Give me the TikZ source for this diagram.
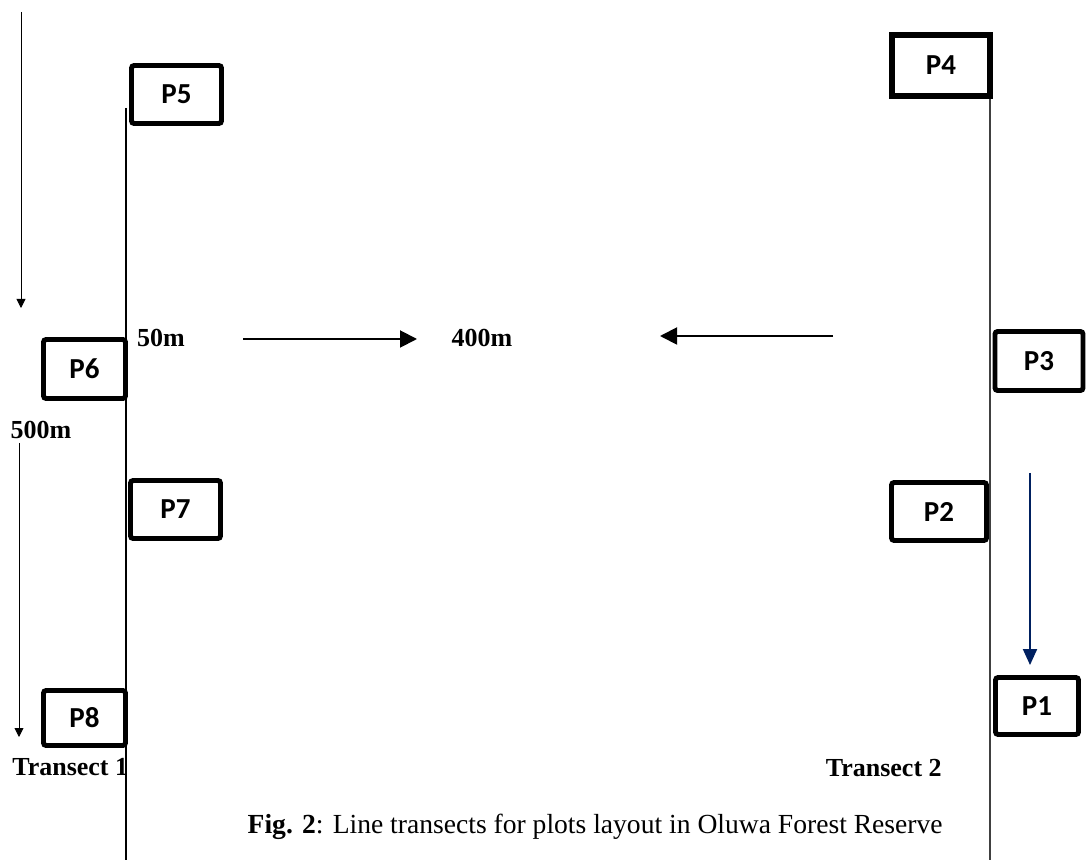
\documentclass[tikz,border=0pt]{standalone}
\usepackage{fontspec}
\setmainfont{Liberation Serif}
\newfontfamily\plotfont{Carlito}
\usetikzlibrary{arrows.meta, positioning}
\definecolor{navyarrow}{RGB}{0,32,96}

\begin{document}
\begin{tikzpicture}[
  % Node styles
  plotbox/.style={
    rectangle, rounded corners=1.5pt,
    draw=black, line width=2.8pt, fill=white,
    minimum width=1.8cm, minimum height=1.16cm,
    inner sep=0pt,
    font=\plotfont\bfseries\fontsize{16.5}{19}\selectfont
  },
  lbl/.style={
    inner sep=0pt,
    font=\bfseries\fontsize{14.8}{18}\selectfont
  },
  % Line styles
  transect/.style={line width=1.1pt},
  arr/.style={-{Triangle[length=0.34cm, width=0.34cm]}, line width=1.1pt},
  thinarr/.style={-{Triangle[length=0.18cm, width=0.18cm]}, line width=0.5pt},
  bluearr/.style={-{Triangle[length=0.32cm, width=0.28cm]}, line width=1.1pt, draw=navyarrow}
]
\useasboundingbox (0,0) rectangle (21.74,17.2);

%% ── Transect lines ───────────────────────────────────────────
\coordinate (t1top) at (2.52,15.04);
\coordinate (t1bot) at (2.52,0);
\coordinate (t2top) at (19.80,15.22);
\coordinate (t2bot) at (19.80,0);
\draw[transect] (t1top) -- (t1bot);
\draw[line width=0.6pt, black!75] (t2top) -- (t2bot);

%% ── Plots along transect 1 ───────────────────────────────────
\node[plotbox]                                   (P5) at (3.53,15.31) {P5};
\node[plotbox, minimum width=1.64cm, minimum height=1.18cm] (P6) at (1.69,9.82)  {P6};
\node[plotbox]                                   (P7) at (3.51,7.01)  {P7};
\node[plotbox, minimum width=1.64cm, minimum height=1.10cm] (P8) at (1.69,2.84)  {P8};

%% ── Plots along transect 2 ───────────────────────────────────
\node[plotbox, rounded corners=0pt, line width=3.4pt,
      minimum width=1.96cm, minimum height=1.22cm] (P4) at (18.82,15.89) {P4};
\node[plotbox, minimum width=1.76cm, minimum height=1.18cm] (P3) at (20.78,9.98)  {P3};
\node[plotbox, minimum width=1.90cm]             (P2) at (18.78,6.97)  {P2};
\node[plotbox, minimum width=1.66cm, minimum height=1.14cm] (P1) at (20.74,3.08)  {P1};

%% ── Distance labels ──────────────────────────────────────────
\node[lbl] (d50)  at (3.22,10.44) {50m};
\node[lbl] (d400) at (9.64,10.44) {400m};
\node[lbl] (d500) at (0.82,8.60)  {500m};

%% ── Arrows: towards 400m ─────────────────────────────────────
\coordinate (la) at (4.86,10.42);
\coordinate (lb) at (8.34,10.42);
\coordinate (ra) at (16.66,10.48);
\coordinate (rb) at (13.20,10.48);
\draw[arr] (la) -- (lb);
\draw[arr] (ra) -- (rb);

%% ── Arrows: 500m down the left side ──────────────────────────
\coordinate (ua) at (0.42,16.96);
\coordinate (ub) at (0.42,11.04);
\coordinate (wa) at (0.38,8.34);
\coordinate (wb) at (0.38,2.46);
\draw[thinarr] (ua) -- (ub);
\draw[thinarr] (wa) -- (wb);

%% ── Arrow: down transect 2 to P1 ─────────────────────────────
\coordinate (ba) at (20.60,7.74);
\draw[bluearr] (ba) -- (ba |- P1.north) [shorten >=0.2cm];

%% ── Transect names and caption ───────────────────────────────
\node[lbl, anchor=west] (tr1) at (0.24,1.86) {Transect 1};
\node[lbl, anchor=east] (tr2) at (18.84,1.84) {Transect 2};
\node[anchor=east, inner sep=0pt, font=\fontsize{15.7}{19}\selectfont]
  (cap) at (18.86,0.66) {\textbf{Fig. 2}: Line transects for plots layout in Oluwa Forest Reserve};

\end{tikzpicture}
\end{document}
